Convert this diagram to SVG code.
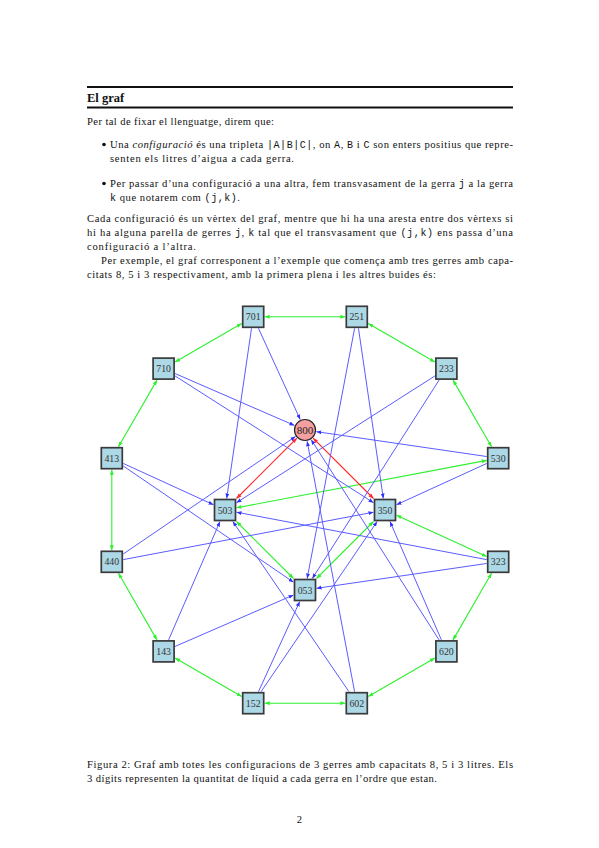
<svg xmlns="http://www.w3.org/2000/svg" width="599" height="848" viewBox="0 0 599 848">
<defs>
<style>
.t{font-family:"Liberation Serif","DejaVu Serif",serif;font-size:10.6px;fill:#111}
.m{font-family:"Liberation Mono","DejaVu Sans Mono",monospace;font-size:10px}
.h{font-family:"Liberation Serif","DejaVu Serif",serif;font-size:12.5px;font-weight:bold;fill:#111}
.rule{stroke:#111;stroke-width:1.8}
.node rect{fill:#add8e6;stroke:#3a3a3a;stroke-width:1.7}
.node text{font-family:"Liberation Serif","DejaVu Serif",serif;font-size:9.8px;fill:#333;text-anchor:middle}
.g{stroke:#2ef02e;stroke-width:1.1;fill:none;marker-start:url(#aG);marker-end:url(#aG)}
.b{stroke:#5c5cff;stroke-width:1;fill:none;marker-end:url(#aB)}
.r{stroke:#ff2a2a;stroke-width:1.2;fill:none;marker-start:url(#aR);marker-end:url(#aR)}
</style>
<marker id="aG" viewBox="0 0 6 6" refX="6" refY="3" markerWidth="5" markerHeight="5" markerUnits="userSpaceOnUse" orient="auto-start-reverse"><path d="M0,0.6 L6,3 L0,5.4 Z" fill="#2ef02e"/></marker>
<marker id="aB" viewBox="0 0 6 6" refX="6" refY="3" markerWidth="5" markerHeight="5" markerUnits="userSpaceOnUse" orient="auto-start-reverse"><path d="M0,0.6 L6,3 L0,5.4 Z" fill="#3030ff"/></marker>
<marker id="aR" viewBox="0 0 6 6" refX="6" refY="3" markerWidth="5" markerHeight="5" markerUnits="userSpaceOnUse" orient="auto-start-reverse"><path d="M0,0.6 L6,3 L0,5.4 Z" fill="#ff2a2a"/></marker>
</defs>
<rect width="599" height="848" fill="#fff"/>

<g id="page-text">
<line class="rule" x1="87" y1="87" x2="513" y2="87"/>
<text class="h" x="87" y="101.5">El graf</text>
<line class="rule" x1="87" y1="107.5" x2="513" y2="107.5"/>
<text class="t" x="87" y="124.5" textLength="187" lengthAdjust="spacing">Per tal de fixar el llenguatge, direm que:</text>
<circle cx="104" cy="144.5" r="1.8" fill="#111"/>
<text class="t" x="110" y="148" textLength="403" lengthAdjust="spacing">Una <tspan font-style="italic">configuració</tspan> és una tripleta <tspan class="m">|A|B|C|</tspan>, on <tspan class="m">A</tspan>, <tspan class="m">B</tspan> i <tspan class="m">C</tspan> son enters positius que repre-</text>
<text class="t" x="110" y="162" textLength="184" lengthAdjust="spacing">senten els litres d’aigua a cada gerra.</text>
<circle cx="104" cy="183.5" r="1.8" fill="#111"/>
<text class="t" x="110" y="187" textLength="403" lengthAdjust="spacing">Per passar d’una configuració a una altra, fem transvasament de la gerra <tspan class="m">j</tspan> a la gerra</text>
<text class="t" x="110" y="201" textLength="130" lengthAdjust="spacing"><tspan class="m">k</tspan> que notarem com <tspan class="m">(j,k)</tspan>.</text>
<text class="t" x="87" y="222" textLength="426" lengthAdjust="spacing">Cada configuració és un vèrtex del graf, mentre que hi ha una aresta entre dos vèrtexs si</text>
<text class="t" x="87" y="236" textLength="426" lengthAdjust="spacing">hi ha alguna parella de gerres <tspan class="m">j</tspan>, <tspan class="m">k</tspan> tal que el transvasament que <tspan class="m">(j,k)</tspan> ens passa d’una</text>
<text class="t" x="87" y="250" textLength="109" lengthAdjust="spacing">configuració a l’altra.</text>
<text class="t" x="101" y="264" textLength="412" lengthAdjust="spacing">Per exemple, el graf corresponent a l’exemple que comença amb tres gerres amb capa-</text>
<text class="t" x="87" y="278" textLength="349" lengthAdjust="spacing">citats 8, 5 i 3 respectivament, amb la primera plena i les altres buides és:</text>
<text class="t" x="87" y="768" textLength="426" lengthAdjust="spacing">Figura 2: Graf amb totes les configuracions de 3 gerres amb capacitats 8, 5 i 3 litres. Els</text>
<text class="t" x="87" y="782" textLength="350" lengthAdjust="spacing">3 dígits representen la quantitat de líquid a cada gerra en l’ordre que estan.</text>
<text class="t" x="299.5" y="823" text-anchor="middle">2</text>
</g>

<g id="connectors">
<line class="g" x1="264.7" y1="316.8" x2="345.3" y2="316.8"/>
<line class="g" x1="241.7" y1="323.45" x2="175.1" y2="361.95"/>
<line class="g" x1="368.3" y1="323.45" x2="434.9" y2="361.95"/>
<line class="g" x1="156.95" y1="380.1" x2="118.45" y2="446.7"/>
<line class="g" x1="453.05" y1="380.1" x2="491.55" y2="446.7"/>
<line class="g" x1="111.8" y1="469.7" x2="111.8" y2="550.3"/>
<line class="g" x1="486.7" y1="460.38" x2="236.5" y2="507.82"/>
<line class="g" x1="236.5" y1="521.5" x2="293.5" y2="578.5"/>
<line class="g" x1="373.5" y1="521.5" x2="316.5" y2="578.5"/>
<line class="g" x1="396.5" y1="515.26" x2="486.7" y2="556.54"/>
<line class="g" x1="491.55" y1="573.3" x2="453.05" y2="639.9"/>
<line class="g" x1="118.45" y1="573.3" x2="156.95" y2="639.9"/>
<line class="g" x1="175.1" y1="658.05" x2="241.7" y2="696.55"/>
<line class="g" x1="264.7" y1="703.2" x2="345.3" y2="703.2"/>
<line class="g" x1="368.3" y1="696.55" x2="434.9" y2="658.05"/>

<line class="r" x1="296.87" y1="438.13" x2="236.5" y2="498.5"/>
<line class="r" x1="313.13" y1="438.13" x2="373.5" y2="498.5"/>

<line class="b" x1="258.46" y1="328.3" x2="300.21" y2="419.54"/>
<line class="b" x1="251.52" y1="328.3" x2="226.68" y2="498.5"/>
<line class="b" x1="175.1" y1="373.59" x2="294.45" y2="425.42"/>
<line class="b" x1="175.1" y1="375.94" x2="373.5" y2="502.66"/>
<line class="b" x1="358.48" y1="328.3" x2="383.32" y2="498.5"/>
<line class="b" x1="354.62" y1="328.3" x2="307.18" y2="578.5"/>
<line class="b" x1="434.9" y1="375.94" x2="236.5" y2="502.66"/>
<line class="b" x1="439.06" y1="380.1" x2="312.34" y2="578.5"/>
<line class="b" x1="486.7" y1="456.52" x2="316.38" y2="431.66"/>
<line class="b" x1="486.7" y1="463.46" x2="396.5" y2="504.74"/>
<line class="b" x1="123.3" y1="463.46" x2="213.5" y2="504.74"/>
<line class="b" x1="123.3" y1="466.04" x2="293.5" y2="582.15"/>
<line class="b" x1="123.3" y1="553.96" x2="295.5" y2="436.48"/>
<line class="b" x1="123.3" y1="559.62" x2="373.5" y2="512.18"/>
<line class="b" x1="486.7" y1="559.62" x2="236.5" y2="512.18"/>
<line class="b" x1="486.7" y1="563.48" x2="316.5" y2="588.32"/>
<line class="b" x1="168.59" y1="639.9" x2="220.01" y2="521.5"/>
<line class="b" x1="175.1" y1="646.41" x2="293.5" y2="594.99"/>
<line class="b" x1="439.06" y1="639.9" x2="311.19" y2="439.69"/>
<line class="b" x1="441.41" y1="639.9" x2="389.99" y2="521.5"/>
<line class="b" x1="258.46" y1="691.7" x2="299.74" y2="601.5"/>
<line class="b" x1="261.04" y1="691.7" x2="377.15" y2="521.5"/>
<line class="b" x1="348.96" y1="691.7" x2="232.85" y2="521.5"/>
<line class="b" x1="354.62" y1="691.7" x2="307.14" y2="441.3"/>
</g>

<g id="n800"><circle cx="305" cy="430" r="10.5" fill="#f4a0a0" stroke="#222" stroke-width="1.2"/><text x="305" y="434" font-family="Liberation Serif,DejaVu Serif,serif" font-size="11" text-anchor="middle" fill="#222">800</text></g>
<g id="n701" class="node"><rect x="242.7" y="306.3" width="21" height="21"/><text x="253.2" y="320.3">701</text></g>
<g id="n251" class="node"><rect x="346.3" y="306.3" width="21" height="21"/><text x="356.8" y="320.3">251</text></g>
<g id="n710" class="node"><rect x="153.1" y="358.1" width="21" height="21"/><text x="163.6" y="372.1">710</text></g>
<g id="n233" class="node"><rect x="435.9" y="358.1" width="21" height="21"/><text x="446.4" y="372.1">233</text></g>
<g id="n413" class="node"><rect x="101.3" y="447.7" width="21" height="21"/><text x="111.8" y="461.7">413</text></g>
<g id="n530" class="node"><rect x="487.7" y="447.7" width="21" height="21"/><text x="498.2" y="461.7">530</text></g>
<g id="n503" class="node"><rect x="214.5" y="499.5" width="21" height="21"/><text x="225" y="513.5">503</text></g>
<g id="n350" class="node"><rect x="374.5" y="499.5" width="21" height="21"/><text x="385" y="513.5">350</text></g>
<g id="n440" class="node"><rect x="101.3" y="551.3" width="21" height="21"/><text x="111.8" y="565.3">440</text></g>
<g id="n323" class="node"><rect x="487.7" y="551.3" width="21" height="21"/><text x="498.2" y="565.3">323</text></g>
<g id="n053" class="node"><rect x="294.5" y="579.5" width="21" height="21"/><text x="305" y="593.5">053</text></g>
<g id="n143" class="node"><rect x="153.1" y="640.9" width="21" height="21"/><text x="163.6" y="654.9">143</text></g>
<g id="n620" class="node"><rect x="435.9" y="640.9" width="21" height="21"/><text x="446.4" y="654.9">620</text></g>
<g id="n152" class="node"><rect x="242.7" y="692.7" width="21" height="21"/><text x="253.2" y="706.7">152</text></g>
<g id="n602" class="node"><rect x="346.3" y="692.7" width="21" height="21"/><text x="356.8" y="706.7">602</text></g>
</svg>
